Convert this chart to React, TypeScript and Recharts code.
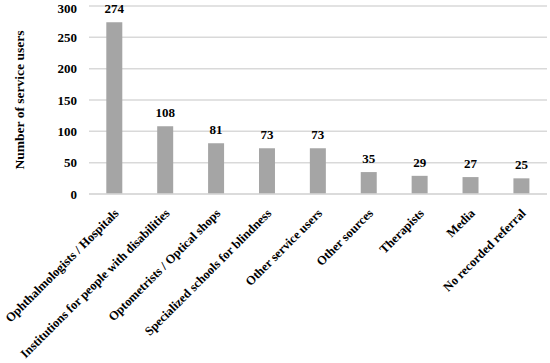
import React from "react";
import { BarChart, Bar, XAxis, YAxis, CartesianGrid, LabelList } from "recharts";

const categories = [
  "Ophthalmologists / Hospitals",
  "Institutions for people with disabilities",
  "Optometrists / Optical shops",
  "Specialized schools for blindness",
  "Other service users",
  "Other sources",
  "Therapists",
  "Media",
  "No recorded referral",
];
const values = [274, 108, 81, 73, 73, 35, 29, 27, 25];
const yTicks = [0, 50, 100, 150, 200, 250, 300];

const data = categories.map((c, i) => ({ name: c, value: values[i] }));

const FONT = "'Liberation Serif', serif";

const XTick = (props: any) => {
  const { x, y, payload } = props;
  return (
    <text
      transform={`translate(${x + 5},${y + 12}) rotate(-45)`}
      textAnchor="end"
      fontFamily={FONT}
      fontWeight="bold"
      fontSize={12.5}
      fill="#000"
    >
      {payload.value}
    </text>
  );
};

export default function App() {
  return (
    <div style={{ position: "absolute", left: 0, top: 0, background: "#fff" }}>
      <BarChart
        width={550}
        height={363}
        data={data}
        margin={{ top: 6, right: 3, bottom: 0, left: 0 }}
        barCategoryGap="34%"
      >
        <CartesianGrid vertical={false} stroke="#d9d9d9" strokeWidth={1.5} />
        <XAxis
          dataKey="name"
          interval={0}
          height={169}
          tick={<XTick />}
          tickLine={false}
          axisLine={{ stroke: "#d9d9d9", strokeWidth: 1.5 }}
        />
        <YAxis
          domain={[0, 300]}
          ticks={yTicks}
          width={89}
          axisLine={false}
          tickLine={false}
          tick={{ fontFamily: FONT, fontWeight: "bold", fontSize: 13, fill: "#000", dx: -4 }}
          label={{
            value: "Number of service users",
            angle: -90,
            position: "insideLeft",
            dx: 14,
            dy: 0,
            style: { fontFamily: FONT, fontWeight: "bold", fontSize: 13.5, fill: "#000", textAnchor: "middle" },
          }}
        />
        <Bar dataKey="value" fill="#a5a5a5" isAnimationActive={false}>
          <LabelList
            dataKey="value"
            position="top"
            offset={9}
            style={{ fontFamily: FONT, fontWeight: "bold", fontSize: 13, fill: "#000" }}
          />
        </Bar>
      </BarChart>
    </div>
  );
}
